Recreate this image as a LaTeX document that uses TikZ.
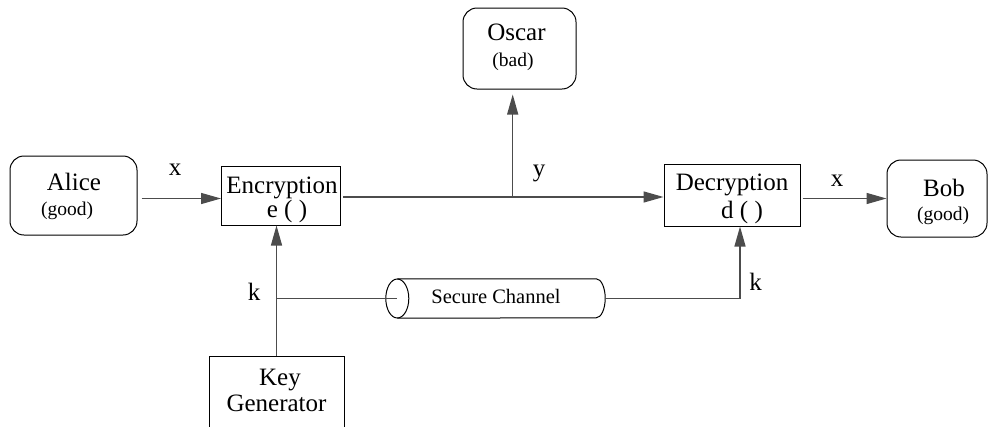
\documentclass[tikz,border=0pt]{standalone}
\usepackage{fontspec}
\setmainfont{Liberation Serif}
\usetikzlibrary{arrows.meta}

\tikzset{
  party/.style={draw=black, line width=1pt, rounded corners=14pt, inner sep=0pt},
  block/.style={draw=black, line width=1pt, inner sep=0pt},
  big/.style={font=\fontsize{25}{27}\selectfont, inner sep=0pt, anchor=base},
  small/.style={font=\fontsize{19.5}{21}\selectfont, inner sep=0pt, anchor=base},
  wire/.style={draw=black!70, line width=1.3pt},
  flow/.style={wire, -{Triangle[length=20pt,width=11pt]}},
  pipeline/.style={draw=black, line width=1pt},
}

\begin{document}
\begin{tikzpicture}[x=1pt, y=-1pt]
\useasboundingbox (0,0) rectangle (990,426);
\clip (0,0) rectangle (990,426);

% parties and processing blocks
\node[party, minimum width=127pt, minimum height=79pt] (alice) at (73.5,195.5) {};
\node[block, minimum width=119pt, minimum height=59pt] (enc) at (281,195.5) {};
\node[party, minimum width=113pt, minimum height=81pt] (oscar) at (519.5,48.5) {};
\node[block, minimum width=136pt, minimum height=62pt] (dec) at (732,195) {};
\node[party, minimum width=100pt, minimum height=77pt] (bob) at (937,198.5) {};
\node[block, minimum width=135pt, minimum height=90pt] (keygen) at (276.5,401.5) {};

% secure channel: a horizontal cylinder, open end on the left
\node[minimum width=219pt, minimum height=39pt, inner sep=0pt] (chan) at (495.5,298.5) {};
\draw[pipeline] ([xshift=11.5pt]chan.west) ellipse [x radius=11.5pt, y radius=19.5pt];
\draw[pipeline] ([xshift=11.5pt]chan.north west) -- ([xshift=-9pt]chan.north east)
  arc[start angle=90, end angle=-90, x radius=9pt, y radius=19.5pt]
  -- ([xshift=11.5pt]chan.south west);

% box texts
\node[big] (alicet) at (74,190.5) {Alice};
\node[small] (alices) at (67,215) {(good)};
\node[big] (enct) at (282,193) {Encryption};
\node[big] (encf) at (287,217) {e ( )};
\node[big] (oscart) at (516.5,40.5) {Oscar};
\node[small] (oscars) at (513,66.5) {(bad)};
\node[big] (dect) at (732,190.5) {Decryption};
\node[big] (decf) at (742,218) {d ( )};
\node[big] (bobt) at (944,196.5) {Bob};
\node[small] (bobs) at (943,220) {(good)};
\node[big] (keyt) at (280,385) {Key};
\node[big] (gent) at (276.5,411.5) {Generator};
\node[small, font=\fontsize{20.5}{22}\selectfont] (chant) at (496,303.3) {Secure Channel};

% wire labels
\node[big] (lx1) at (175,175) {x};
\node[big] (ly) at (539,176.5) {y};
\node[big] (lx2) at (837,186.5) {x};
\node[big] (lk1) at (254,300.5) {k};
\node[big] (lk2) at (755.5,290) {k};

% junction points
\coordinate (tap) at (512.7,197);
\coordinate (kj) at (276.5,298.5);
\coordinate (kr) at (740,298.5);

% connectors
\draw[flow] (alice.east |- 0,198.5) ++(4,0) -- (enc.west |- 0,198.5);
\draw[wire] (enc.east |- tap) ++(2,0) -- (tap);
\draw[flow] (tap) -- (dec.west |- tap);
\draw[flow, shorten >=5pt] (tap) -- (tap |- oscar.south);
\draw[flow] (dec.east |- 0,198.5) ++(2,0) -- (bob.west |- 0,198.5);
\draw[flow] (keygen.north -| kj) -- (enc.south -| kj);
\draw[wire] (kj) -- ([xshift=11.5pt]chan.west |- kj);
\draw[wire] (chan.east |- kr) -- (kr);
\draw[flow] (kr) -- (dec.south -| kr);
\end{tikzpicture}
\end{document}
